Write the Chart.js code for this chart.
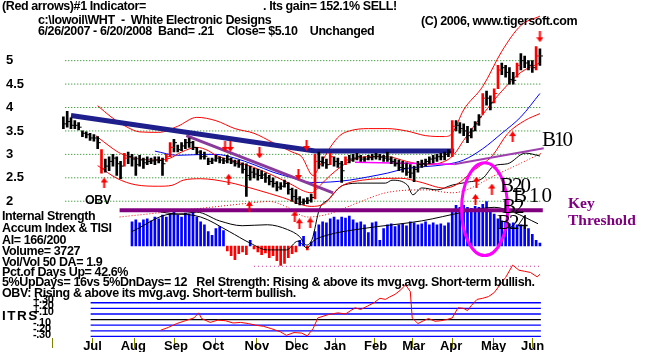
<!DOCTYPE html>
<html>
<head>
<meta charset="utf-8">
<script src="https://cdn.jsdelivr.net/npm/chart.js@4.4.1/dist/chart.umd.min.js"></script>
<style>
body { margin: 0; background: #fff; }
#wrap { position: relative; width: 653px; height: 352px; overflow: hidden; background: #fff; }
#wrap canvas { position: absolute; left: 0; top: 0; }
.t { position: absolute; font: bold 12.5px/12px "Liberation Sans", Arial, sans-serif; letter-spacing: -0.4px; white-space: pre; color: #000; }
.s { position: absolute; font: bold 11px/10px "Liberation Sans", Arial, sans-serif; letter-spacing: -0.3px; white-space: pre; color: #000; }
.sig { position: absolute; font: 21px/21px "Liberation Serif", "Times New Roman", serif; letter-spacing: -2px; white-space: pre; color: #000; }
.key { position: absolute; font: bold 15.5px/16px "Liberation Serif", "Times New Roman", serif; white-space: pre; color: #800080; }
</style>
</head>
<body>
<div id="wrap">
  <canvas id="stockChart" width="653" height="352"></canvas>
  <div class="t" style="left:2px;top:0px">(Red arrows)#1 Indicator=</div>
  <div class="t" style="left:263px;top:0px">. Its gain= 152.1% SELL!</div>
  <div class="t" style="left:38px;top:14px">c:\lowoil\WHT  -  White Electronic Designs</div>
  <div class="t" style="left:421px;top:15px">(C) 2006, www.tigersoft.com</div>
  <div class="t" style="left:38px;top:25px">6/26/2007 - 6/20/2008  Band= .21    Close= $5.10    Unchanged</div>
  <div class="t" style="left:85px;top:194px">OBV</div>
  <div class="t" style="left:2px;top:210px">Internal Strength</div>
  <div class="t" style="left:2px;top:222px">Accum Index &amp; TISI</div>
  <div class="t" style="left:2px;top:234px">AI= 166/200</div>
  <div class="t" style="left:2px;top:245px">Volume= 3727</div>
  <div class="t" style="left:2px;top:256px">Vol/Vol 50 DA= 1.9</div>
  <div class="t" style="left:2px;top:266px">Pct.of Days Up= 42.6%</div>
  <div class="t" style="left:2px;top:276px">5%UpDays= 16vs 5%DnDays= 12   Rel Strength: Rising &amp; above its mvg.avg. Short-term bullish.</div>
  <div class="t" style="left:2px;top:287px">OBV: Rising &amp; above its mvg.avg. Short-term bullish.</div>
  <div class="t" style="left:2px;top:310px;font-size:13.5px;letter-spacing:1.5px">ITRS</div>
  <div class="s" style="left:33px;top:294px">+.30</div>
  <div class="s" style="left:33px;top:300px">+.20</div>
  <div class="s" style="left:33px;top:306px">+.10</div>
  <div class="s" style="left:33px;top:317px">-.10</div>
  <div class="s" style="left:33px;top:323px">-.20</div>
  <div class="s" style="left:33px;top:329px">-.30</div>
  <div class="key" style="left:568px;top:195px">Key</div>
  <div class="key" style="left:568px;top:212px">Threshold</div>
  <div class="sig" style="left:542px;top:129px">B10</div>
  <div class="sig" style="left:500px;top:175px">B20</div>
  <div class="sig" style="left:513px;top:185px;letter-spacing:2px">B10</div>
  <div class="sig" style="left:502px;top:196px">B2</div>
  <div class="sig" style="left:497px;top:212px">B24</div>
</div>
<script>
// x values are trading days counted from 6/26/2007
const monthDays = [4.8, 26.2, 48.6, 68.1, 91, 112, 132, 153.3, 173.3, 192.9, 215.2, 235.7];
const monthLabels = ['Jul', 'Aug', 'Sep', 'Oct', 'Nov', 'Dec', 'Jan', 'Feb', 'Mar', 'Apr', 'May', 'Jun'];
const priceTicks = [2, 2.5, 3, 3.5, 4, 4.5, 5];
const itrsLevels = [0.3, 0.2, 0.1, 0, -0.1, -0.2, -0.3];

// one bar every 2 trading days
const barStep = 2;
const lows = [3.55, 3.58, 3.55, 3.55, 3.52, 3.38, 3.35, 3.30, 3.28, 3.12,
  2.60, 2.62, 2.65, 2.75, 2.55, 2.48, 2.75, 2.80, 2.75, 2.55,
  2.75, 2.70, 2.78, 2.80, 2.78, 2.82, 2.55, 2.85, 2.95, 3.05,
  3.05, 3.08, 3.12, 3.15, 3.10, 3.00, 2.90, 2.90, 2.78, 2.80,
  2.85, 2.82, 2.80, 2.82, 2.80, 2.75, 2.72, 2.60, 2.10, 2.45,
  2.50, 2.45, 2.48, 2.40, 2.35, 2.30, 2.22, 2.25, 2.30, 2.15,
  2.00, 1.95, 1.92, 1.93, 1.95, 1.98, 2.05, 2.70, 2.75, 2.70,
  2.78, 2.75, 2.72, 2.40, 2.78, 2.82, 2.85, 2.88, 2.85, 2.85,
  2.88, 2.88, 2.90, 2.88, 2.85, 2.85, 2.80, 2.75, 2.65, 2.62,
  2.55, 2.50, 2.42, 2.62, 2.72, 2.75, 2.80, 2.82, 2.85, 2.88,
  2.88, 2.95, 2.95, 3.50, 3.45, 3.40, 3.25, 3.35, 3.50, 3.62,
  3.85, 4.05, 3.95, 4.10, 4.40, 4.70, 4.65, 4.50, 4.50, 4.65,
  4.80, 4.85, 4.80, 4.75, 4.80, 4.90];
const highs = [3.80, 3.92, 3.78, 3.72, 3.68, 3.50, 3.48, 3.45, 3.42, 3.38,
  3.10, 2.90, 2.95, 3.00, 2.95, 2.85, 3.02, 3.05, 3.00, 2.95,
  2.98, 2.92, 2.95, 2.92, 2.95, 2.95, 2.92, 3.00, 3.25, 3.32,
  3.20, 3.25, 3.32, 3.35, 3.28, 3.15, 3.08, 3.05, 2.92, 2.92,
  2.98, 2.95, 2.92, 2.98, 2.92, 2.88, 2.88, 2.82, 2.80, 2.75,
  2.70, 2.68, 2.65, 2.60, 2.55, 2.50, 2.42, 2.40, 2.45, 2.40,
  2.28, 2.25, 2.10, 2.05, 2.08, 2.15, 3.00, 3.05, 2.95, 2.90,
  3.02, 2.95, 2.92, 2.85, 2.95, 2.98, 3.00, 3.02, 2.98, 2.95,
  2.98, 3.00, 3.02, 3.00, 2.98, 3.05, 2.95, 2.90, 2.88, 2.85,
  2.82, 2.78, 2.75, 2.85, 2.88, 2.90, 2.95, 2.98, 3.00, 3.02,
  3.05, 3.10, 3.72, 3.72, 3.68, 3.65, 3.60, 3.55, 3.70, 3.85,
  4.30, 4.35, 4.25, 4.40, 4.90, 4.95, 4.90, 4.85, 4.75, 4.95,
  5.15, 5.10, 5.00, 5.00, 5.30, 5.25];
const closes = [3.65, 3.70, 3.62, 3.62, 3.58, 3.45, 3.42, 3.35, 3.35, 3.25,
  2.70, 2.75, 2.85, 2.92, 2.80, 2.75, 2.92, 2.95, 2.90, 2.78,
  2.88, 2.82, 2.85, 2.86, 2.88, 2.87, 2.80, 2.95, 3.15, 3.25,
  3.10, 3.18, 3.25, 3.25, 3.15, 3.05, 2.95, 2.96, 2.85, 2.88,
  2.92, 2.88, 2.86, 2.90, 2.84, 2.80, 2.78, 2.68, 2.55, 2.62,
  2.58, 2.55, 2.56, 2.50, 2.42, 2.38, 2.30, 2.32, 2.38, 2.25,
  2.10, 2.05, 1.98, 2.00, 2.02, 2.08, 2.85, 2.85, 2.82, 2.78,
  2.95, 2.85, 2.80, 2.65, 2.88, 2.90, 2.92, 2.95, 2.90, 2.90,
  2.93, 2.95, 2.96, 2.94, 2.92, 2.90, 2.85, 2.80, 2.72, 2.70,
  2.62, 2.60, 2.68, 2.78, 2.80, 2.85, 2.90, 2.92, 2.95, 2.95,
  3.00, 3.05, 3.60, 3.62, 3.55, 3.50, 3.40, 3.50, 3.65, 3.80,
  4.20, 4.20, 4.10, 4.30, 4.80, 4.85, 4.75, 4.60, 4.58, 4.90,
  5.00, 4.95, 4.90, 4.85, 5.10, 5.10];

// [day, price]
const upperBand = [[18, 4.04], [25, 3.80], [34, 3.57], [40, 3.48], [50, 3.47], [60, 3.60], [70, 3.79],
  [80, 3.72], [90, 3.55], [100, 3.45], [110, 3.25], [120, 3.05], [125, 2.95], [131, 2.55], [135, 2.80],
  [140, 3.15], [145, 3.40], [150, 3.50], [160, 3.55], [170, 3.55], [180, 3.50], [190, 3.40], [200, 3.38],
  [204, 3.45], [210, 3.95], [220, 4.45], [230, 5.20], [240, 5.75], [250, 5.95]];
const movAvg21 = [[17, 3.40], [25, 3.15], [30, 3.02], [40, 2.90], [50, 2.88], [56, 2.92], [62, 3.05], [70, 3.15],
  [76, 3.08], [80, 2.98], [90, 2.85], [100, 2.72], [110, 2.55], [120, 2.35], [126, 2.22], [130, 2.18],
  [135, 2.35], [140, 2.55], [150, 2.85], [160, 2.95], [170, 2.95], [180, 2.85], [190, 2.78], [200, 2.85],
  [205, 3.00], [210, 3.30], [220, 3.85], [230, 4.35], [240, 4.75], [250, 4.95]];
const lowerBand = [[18, 2.76], [28, 2.49], [38, 2.35], [50, 2.32], [57, 2.34], [63, 2.45], [72, 2.48], [87, 2.40],
  [101, 2.25], [115, 2.08], [130, 1.89], [137, 1.95], [145, 2.30], [157, 2.45], [177, 2.49], [187, 2.41],
  [200, 2.28], [206, 2.35], [215, 2.65], [225, 2.97], [233, 3.44], [242, 3.72], [250, 3.87]];
const movAvg50 = [[48, 3.07], [60, 2.98], [75, 3.00], [80, 3.00], [90, 2.92], [100, 2.78], [110, 2.62], [120, 2.50],
  [130, 2.40], [140, 2.41], [150, 2.45], [160, 2.52], [170, 2.60], [180, 2.70], [190, 2.74], [200, 2.78],
  [210, 2.88], [220, 3.12], [230, 3.45], [240, 3.80], [250, 4.30]];

const resistanceLine = [[4, 3.83], [132, 3.07], [205, 3.07]];
const downTrend = [[64.5, 3.40], [141.5, 2.18]];
const pinkLine = [[153, 2.83], [205, 2.79]];
const b10Line = [[205, 2.79], [252, 3.13]];
const keyThreshold = [[29.5, 1.81], [251.5, 1.81]];

// OBV and its moving average (relative units)
const obv = [[48.6, 43], [60.5, 40], [70, 42], [81.9, 33], [93.8, 28], [107, 29], [117.6, 24], [123.8, 17],
  [127.6, 8], [130.5, 14], [134.3, 45], [139, 55], [147, 70], [156.7, 72], [169, 72], [172.4, 75],
  [180.5, 70], [183.3, 60], [188, 67], [196, 65], [204, 70], [212, 73], [220, 77], [226, 90], [233, 92],
  [242.4, 103], [250, 100]];
const obvAvg = [[29.5, 37], [53.3, 42], [77, 47], [96, 51], [108, 53], [117.6, 47], [128, 37], [139, 40],
  [154.8, 52], [169, 62], [190, 65], [204, 62], [229.5, 83], [251, 103]];

// Internal strength histogram, one value every 2 days from day 36
const isStart = 36;
const internalStrength = [25, 27, 24, 27, 28, 26, 30, 28, 32, 30,
  33, 35, 32, 30, 34, 33, 35, 30, 25, 22,
  15, 11, 18, 20, 16, -5, -10, -14, -8, -6,
  -9, 6, -3, -6, -9, -7, -12, -10, -15, -20,
  -18, -12, -8, -6, 6, 10, -4, 4, 15, 22,
  25, 24, 28, 30, 27, 30, 29, 31, 27, 24,
  25, 22, 14, 24, 25, 6, 18, 22, 23, 20,
  22, 23, 21, 25, 24, 22, 23, 25, 22, 24,
  22, 23, 21, 24, 38, 42, 40, 42, 40, 39,
  41, 40, 43, 46, 38, 33, 28, 26, 25, 23,
  24, 22, 22, 20, 18, 12, 6, 3];
const tisi = [[36, 15], [57, 33], [72, 30], [87, 15], [98, 3], [107, -4], [117, -4], [123, 5], [128, -2],
  [131, 5], [138, 11], [157, 18], [188, 26], [210, 35], [226, 40], [236, 35], [249, 23]];

// ITRS relative strength
const itrs = [[51, -0.19], [55, -0.14], [59.5, -0.07], [64, -0.02], [68.5, 0.03], [71, 0.12], [72.5, 0.02],
  [77, -0.05], [81, -0.01], [85, -0.02], [89, -0.06], [93, -0.05], [97, -0.07], [101, -0.10], [105, -0.12],
  [109, -0.16], [114, -0.22], [117, -0.28], [121, -0.23], [125, -0.24], [128, -0.29], [131, -0.16],
  [133.5, 0.03], [139, 0.09], [144, 0.12], [148, 0.10], [153, 0.21], [156, 0.18], [159.5, 0.24],
  [163, 0.30], [166, 0.38], [169, 0.36], [171, 0.40], [174, 0.45], [177, 0.53], [179.5, 0.62],
  [182, 0.50], [183, 0.03], [186, -0.07], [189, -0.02], [191.5, 0.02], [195, -0.03], [198, -0.02],
  [201, 0.00], [204, 0.03], [207, 0.21], [210, 0.20], [212, 0.16], [214, 0.25], [217, 0.36], [220, 0.38],
  [223, 0.41], [226, 0.48], [229.5, 0.64], [232, 0.75], [235.7, 0.97], [239, 0.88], [242, 0.86],
  [245, 0.84], [248.6, 0.76], [250, 0.81]];
const rsRef = 0.95;

// red signal arrows [day, price]
const buyArrows = [[21.4, 2.39], [86.7, 2.47], [97.6, 1.89], [121.4, 1.68], [123.8, 1.52], [129.5, 1.54],
  [216.7, 2.41], [216.2, 2.04], [224.8, 2.26], [235.7, 3.38]];
const sellArrows = [[84.8, 3.17], [87.6, 3.17], [102.9, 3.03], [123.3, 2.57], [127.6, 3.19], [250, 5.51]];
const signalEllipse = { day: 221, price: 1.83, dayRadius: 12.1, priceRadius: 0.99 };

const pts = arr => arr.map(([x, y]) => ({ x, y }));

function lineSet(data, color, width, axis, order, extra) {
  return Object.assign({
    type: 'line', data: pts(data), borderColor: color, borderWidth: width,
    pointRadius: 0, fill: false, yAxisID: axis, order: order,
    cubicInterpolationMode: 'monotone'
  }, extra || {});
}

function arrowImg(up) {
  const c = document.createElement('canvas');
  c.width = 7; c.height = 11;
  const g = c.getContext('2d');
  g.fillStyle = '#ff0000';
  g.beginPath();
  if (up) { g.moveTo(0, 5); g.lineTo(3.5, 0); g.lineTo(7, 5); }
  else { g.moveTo(0, 6); g.lineTo(3.5, 11); g.lineTo(7, 6); }
  g.closePath();
  g.fill();
  g.fillRect(2.5, up ? 5 : 0, 2, 6);
  return c;
}

const barColors = closes.map((c, i) => {
  const d = i > 0 ? c - closes[i - 1] : 0;
  return (d >= 0.15 || d <= -0.3) ? '#ff0000' : '#000000';
});

const datasets = [];
priceTicks.forEach(v => datasets.push(lineSet([[1, v], [251, v]], '#008000', 1, 'y', 100, { borderDash: [1, 2] })));
itrsLevels.forEach(v => datasets.push(lineSet([[14.3, v], [250.5, v]], v === 0 ? '#000000' : '#0000ff', 1.3, 'yItrs', 90)));
datasets.push(lineSet([[100, rsRef], [251, rsRef]], '#cc3399', 1, 'yItrs', 90, { borderDash: [1, 3] }));

datasets.push({
  type: 'bar', data: internalStrength.map((v, i) => ({ x: isStart + i * 2, y: v })),
  backgroundColor: internalStrength.map(v => v >= 0 ? '#0000ff' : '#ff0000'),
  barThickness: 2, grouped: false, yAxisID: 'yIS', order: 50
});
datasets.push(lineSet(tisi, '#000000', 1, 'yIS', 45));
datasets.push(lineSet(obv, '#000000', 1, 'yObv', 44));
datasets.push(lineSet(obvAvg, '#ff0000', 1, 'yObv', 44, { borderDash: [1, 2] }));

datasets.push(lineSet(upperBand, '#ff0000', 1, 'y', 40));
datasets.push(lineSet(movAvg21, '#ff0000', 1, 'y', 40));
datasets.push(lineSet(lowerBand, '#ff0000', 1, 'y', 40));
datasets.push(lineSet(movAvg50, '#0000ff', 1, 'y', 40));

datasets.push(lineSet(resistanceLine, '#1e1e8c', 5, 'y', 30, { cubicInterpolationMode: 'default' }));
datasets.push(lineSet(downTrend, '#8a3a9a', 3, 'y', 25));
datasets.push(lineSet(pinkLine, '#ff00ff', 1.5, 'y', 25));
datasets.push(lineSet(b10Line, '#a040b0', 2, 'y', 25));
datasets.push(lineSet(keyThreshold, '#800080', 4, 'y', 20));

datasets.push({
  type: 'bar', data: highs.map((h, i) => ({ x: i * barStep, y: [lows[i], h] })),
  backgroundColor: barColors, barThickness: 2, grouped: false, yAxisID: 'y', order: 10
});
datasets.push({
  type: 'line', showLine: false, data: closes.map((c, i) => ({ x: i * barStep, y: c })),
  pointStyle: 'dash', pointRadius: 3, pointBorderWidth: 1, pointBorderColor: barColors,
  yAxisID: 'y', order: 9
});
datasets.push(lineSet(itrs, '#ff0000', 1, 'yItrs', 8, { cubicInterpolationMode: 'default' }));
datasets.push({ type: 'line', showLine: false, data: pts(buyArrows), pointStyle: arrowImg(true), pointRadius: 5, yAxisID: 'y', order: 5 });
datasets.push({ type: 'line', showLine: false, data: pts(sellArrows), pointStyle: arrowImg(false), pointRadius: 5, yAxisID: 'y', order: 5 });

const ellipsePlugin = {
  id: 'signalEllipse',
  afterDatasetsDraw(chart) {
    const xs = chart.scales.x, ys = chart.scales.y, ctx = chart.ctx;
    const cx = xs.getPixelForValue(signalEllipse.day);
    const cy = ys.getPixelForValue(signalEllipse.price);
    const rx = Math.abs(xs.getPixelForValue(signalEllipse.day + signalEllipse.dayRadius) - cx);
    const ry = Math.abs(ys.getPixelForValue(signalEllipse.price + signalEllipse.priceRadius) - cy);
    ctx.save();
    ctx.strokeStyle = '#ff00ff';
    ctx.lineWidth = 3;
    ctx.beginPath();
    ctx.ellipse(cx, cy, rx, ry, 0, 0, Math.PI * 2);
    ctx.stroke();
    ctx.restore();
  }
};

const tickFont = { family: 'Liberation Sans', size: 13, weight: 'bold' };

new Chart(document.getElementById('stockChart').getContext('2d'), {
  type: 'line',
  data: { datasets: datasets },
  options: {
    responsive: false,
    animation: false,
    devicePixelRatio: 1,
    layout: { padding: { left: 6, right: 0, top: 0, bottom: 0 } },
    plugins: { legend: { display: false }, tooltip: { enabled: false } },
    scales: {
      x: {
        type: 'linear', min: 0, max: 292.86,
        afterFit: s => { s.height = 14; },
        afterBuildTicks: s => { s.ticks = monthDays.map(v => ({ value: v })); },
        ticks: {
          autoSkip: false, maxRotation: 0, labelOffset: 20, padding: -9, color: '#000',
          font: tickFont, callback: (v, i) => monthLabels[i]
        },
        grid: { drawOnChartArea: false, drawTicks: true, tickLength: 10, tickColor: '#808000', tickWidth: 1 },
        border: { display: false }
      },
      y: {
        position: 'left', min: -0.919, max: 6.064,
        afterFit: s => { s.width = 32; },
        afterBuildTicks: s => { s.ticks = priceTicks.map(v => ({ value: v })); },
        ticks: { crossAlign: 'far', color: '#000', font: tickFont, callback: v => String(v) },
        grid: { display: false },
        border: { display: false }
      },
      yIS: { display: false, min: -95, max: 243 },
      yObv: { display: false, min: -88, max: 250 },
      yItrs: { display: false, min: -0.3276, max: 5.5 }
    }
  },
  plugins: [ellipsePlugin]
});
</script>
</body>
</html>
